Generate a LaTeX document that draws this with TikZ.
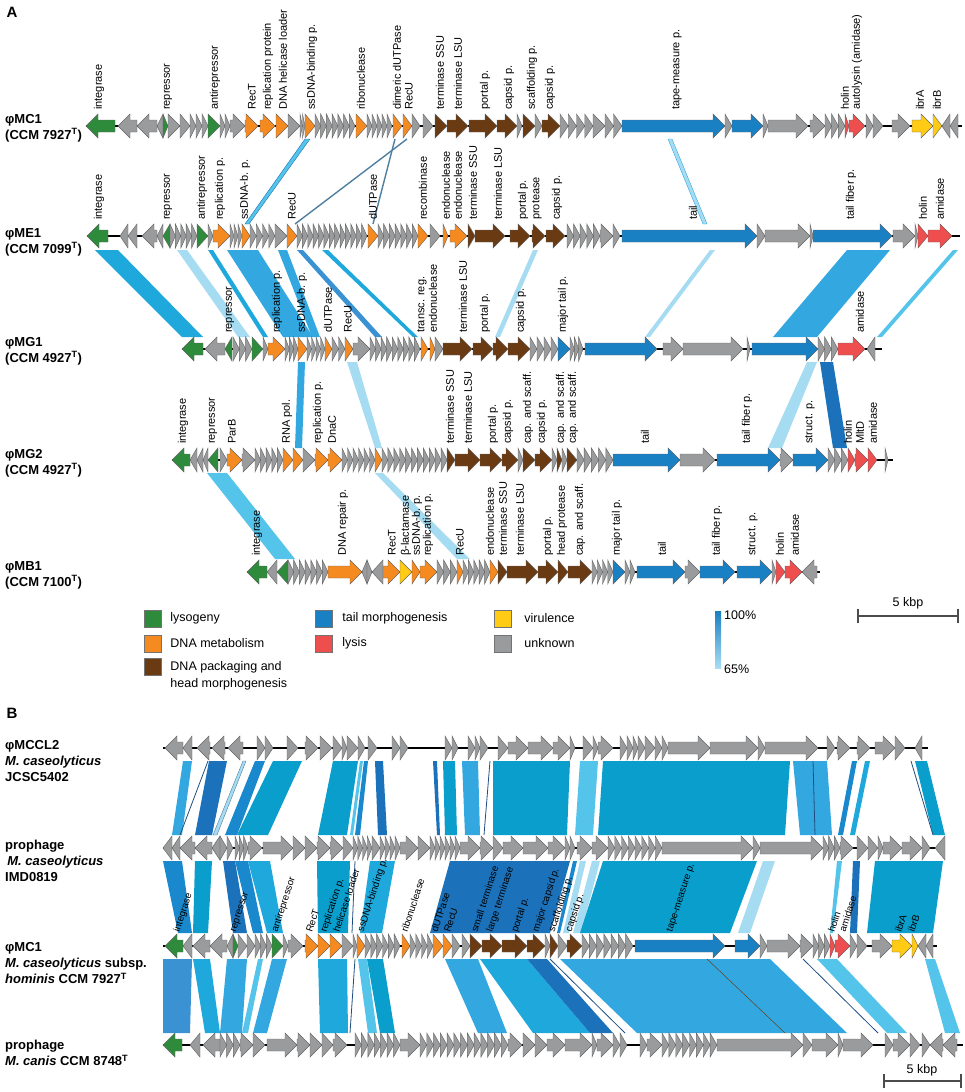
\documentclass[tikz,border=0pt]{standalone}
\usepackage{fontspec}
\setmainfont{Liberation Sans}
\usepackage{tikz}
\usetikzlibrary{positioning}

% gene classes
\definecolor{lys}{HTML}{2E8B3C}
\definecolor{dnam}{HTML}{F58A21}
\definecolor{pack}{HTML}{6A3A12}
\definecolor{tailc}{HTML}{1A80C4}
\definecolor{lysis}{HTML}{EE4E4E}
\definecolor{vir}{HTML}{FFCB14}
\definecolor{unk}{HTML}{9A9B9D}
% identity shades
\definecolor{hi}{HTML}{1A7FC1}
\definecolor{lo}{HTML}{A9DDF3}
\definecolor{hA}{HTML}{0A9ECC}
\definecolor{hB}{HTML}{1A88CC}
\definecolor{hC}{HTML}{33A8E0}
\definecolor{hD}{HTML}{A6DCF2}
\definecolor{hE}{HTML}{55C4EA}
\definecolor{hF}{HTML}{1B72BA}
\definecolor{hG}{HTML}{1F4E80}
\definecolor{hH}{HTML}{3A92D2}
\definecolor{hI}{HTML}{1FA8DC}
\definecolor{hS}{HTML}{4F7FA0}

% one gene arrow on track \ty, from #2 to tip #3
\newcommand\gene[3]{%
  \pgfmathsetmacro\gxa{#2}\pgfmathsetmacro\gxe{#3}%
  \pgfmathsetmacro\ghd{ifthenelse(\gxe>\gxa,1,-1)*min(abs(\gxe-\gxa),12)}%
  \pgfmathsetmacro\gxb{\gxe-(\ghd)}%
  \filldraw[gene, fill=#1] (\gxa,\ty-6) -- (\gxb,\ty-6) -- (\gxb,\ty-12) -- (\gxe,\ty)
    -- (\gxb,\ty+12) -- (\gxb,\ty+6) -- (\gxa,\ty+6) -- cycle;}
% a run of small grey genes
\newcommand\grun[3]{%
  \pgfmathsetmacro\rw{(#2-#1)/#3}%
  \foreach \k in {1,...,#3}{\gene{unk}{#1+(\k-1)*\rw}{#1+\k*\rw}}}

\begin{document}
\begin{tikzpicture}[x=1pt, y=-1pt,
  gene/.style={draw=black!60, line width=.45pt},
  dna/.style={line width=2.5pt, black},
  glab/.style={rotate=90, anchor=west, inner sep=0pt, font=\fontsize{11}{12}\selectfont},
  blab/.style={rotate=72, anchor=west, inner sep=0pt, font=\fontsize{9.8}{11}\selectfont},
  tname/.style={anchor=west, align=left, inner sep=0pt, font=\bfseries\fontsize{13}{16}\selectfont},
  legbox/.style={draw=black!55, line width=.5pt, minimum size=17pt, inner sep=0pt},
  legtxt/.style={anchor=west, inner sep=0pt, font=\fontsize{12.5}{17}\selectfont},
  sbar/.style={line width=1.1pt, black!70}]
\useasboundingbox (0,0) rectangle (964,1092);

%%%%%%%%%%%%%%%% Panel A %%%%%%%%%%%%%%%%
\node[font=\bfseries\fontsize{15}{15}\selectfont] (pA) at (12,12) {A};

% Homology MC1 - ME1 %
\def\yt{139}\def\yb{224}
\filldraw[fill=hE, draw=hF, line width=.4pt] (305,\yt) -- (310,\yt) -- (249,\yb) -- (245,\yb) -- cycle;
\filldraw[fill=hD, draw=hC, line width=.4pt] (668,\yt) -- (672,\yt) -- (707,\yb) -- (703,\yb) -- cycle;
\draw[hS, line width=1.4pt] (395,\yt) -- (373,\yb);
\draw[hS, line width=1.4pt] (407,\yt) -- (295,\yb);
% Homology ME1 - MG1 %
\def\yt{250}\def\yb{337}
\foreach \a/\b/\c/\d/\s in {95/118/182/203/hI, 177/187/238/250/hD, 208/213/263/268/hI,
  227/258/283/313/hC, 278/287/312/320/hC, 297/303/375/382/hH, 322/328/413/418/hI,
  533/538/495/500/hD, 710/715/645/650/hD, 847/890/773/817/hC, 953/958/877/882/hE}
  \fill[\s] (\a,\yt) -- (\b,\yt) -- (\d,\yb) -- (\c,\yb) -- cycle;
% Homology MG1 - MG2 %
\def\yt{362}\def\yb{448}
\foreach \a/\b/\c/\d/\s in {298/305/295/302/hC, 347/357/375/382/hD, 807/817/768/782/hD, 820/833/833/847/hF}
  \fill[\s] (\a,\yt) -- (\b,\yt) -- (\d,\yb) -- (\c,\yb) -- cycle;
% Homology MG2 - MB1 %
\def\yt{473}\def\yb{559}
\foreach \a/\b/\c/\d/\s in {207/227/275/295/hE, 375/383/457/470/hD}
  \fill[\s] (\a,\yt) -- (\b,\yt) -- (\d,\yb) -- (\c,\yb) -- cycle;

% phiMC1 %
\def\ty{126}
\node[tname] (n-mc1) at (5,\ty+2) {φMC1\\(CCM 7927\textsuperscript{T})};
\draw[dna] (86,\ty) -- (962,\ty);
\foreach \a/\b/\s in {115/86/lys, 137/118/unk, 157/137/unk, 163/157/unk, 163/168/lys, 168/180/unk,
  180/190/unk, 208/220/lys, 230/245/unk, 245/258/dnam, 260/275/dnam, 276/288/dnam, 288/300/unk,
  305/315/dnam, 356/367/dnam, 393/402/dnam, 403/412/dnam, 412/420/unk, 423/433/unk, 435/447/pack,
  447/468/pack, 469/497/pack, 497/517/pack, 517/522/unk, 523/535/pack, 535/542/unk, 542/560/pack,
  593/605/unk, 622/725/tailc, 725/732/unk, 732/763/tailc, 763/768/unk, 768/808/unk, 810/825/unk,
  845/849/lysis, 849/865/lysis, 866/873/unk, 873/883/unk, 892/910/unk, 912/933/vir, 933/942/vir,
  950/942/unk, 958/950/unk}
  {\gene{\s}{\a}{\b}}
\grun{190}{208}{3}\grun{220}{230}{2}\grun{300}{305}{2}\grun{315}{355}{7}
\grun{367}{392}{5}\grun{560}{593}{4}\grun{605}{622}{2}\grun{825}{845}{3}
\foreach \x/\t [count=\i] in {99/integrase, 168/repressor, 215/antirepressor, 252/RecT,
  268/replication protein, 283/DNA helicase loader, 312/ssDNA-binding p., 361/ribonuclease,
  397/dimeric dUTPase, 409/RecU, 440/terminase SSU, 458/terminase LSU, 485/portal p.,
  509/capsid p., 532/scaffolding p., 550/capsid p., 677/tape-measure p., 845/holin,
  857/autolysin (amidase), 920/ibrA, 937/ibrB}
  \node[glab] (mc1-\i) at (\x,\ty-16) {\t};

% phiME1 %
\def\ty{236}
\node[tname] (n-me1) at (5,\ty+6) {φME1\\(CCM 7099\textsuperscript{T})};
\draw[dna] (87,\ty) -- (960,\ty);
\foreach \a/\b/\s in {108/87/lys, 128/120/unk, 137/128/unk, 157/142/unk, 163/157/unk, 170/163/lys,
  197/208/lys, 208/213/unk, 213/230/dnam, 242/250/dnam, 275/287/unk, 287/297/dnam, 368/378/dnam,
  418/428/dnam, 430/440/unk, 443/448/dnam, 450/467/dnam, 468/475/pack, 475/505/pack, 510/530/pack,
  532/545/pack, 546/565/pack, 600/613/unk, 613/620/unk, 622/757/tailc, 757/765/unk, 765/810/unk,
  810/813/unk, 813/892/tailc, 893/915/unk, 915/918/unk, 918/928/lysis, 928/952/lysis}
  {\gene{\s}{\a}{\b}}
\grun{170}{197}{5}\grun{230}{242}{3}\grun{250}{275}{4}\grun{297}{367}{13}
\grun{378}{418}{7}\grun{567}{600}{5}
\foreach \x/\t [count=\i] in {99/integrase, 168/repressor, 202/antirepressor, 220/replication p.,
  245/ssDNA-b. p., 292/RecU, 373/dUTPase, 423/recombinase, 446/endonuclease, 458/endonuclease,
  473/terminase SSU, 498/terminase LSU, 523/portal p., 537/protease, 557/capsid p., 693/tail,
  851/tail fiber p., 923/holin, 940/amidase}
  \node[glab] (me1-\i) at (\x,\ty-16) {\t};

% phiMG1 %
\def\ty{349}
\node[tname] (n-mg1) at (5,\ty+2) {φMG1\\(CCM 4927\textsuperscript{T})};
\draw[dna] (182,\ty) -- (882,\ty);
\foreach \a/\b/\s in {203/182/lys, 225/205/unk, 232/225/lys, 252/263/lys, 263/268/unk, 268/285/dnam,
  298/307/dnam, 325/332/dnam, 345/353/dnam, 353/370/unk, 421/428/dnam, 430/435/dnam, 435/443/unk,
  443/472/pack, 473/493/pack, 493/508/pack, 508/530/pack, 558/570/tailc, 585/657/tailc,
  663/683/unk, 683/743/unk, 747/750/unk, 752/818/tailc, 838/865/lysis, 875/867/unk}
  {\gene{\s}{\a}{\b}}
\grun{233}{252}{3}\grun{285}{298}{3}\grun{307}{325}{4}\grun{332}{345}{2}
\grun{370}{420}{9}\grun{530}{558}{4}\grun{570}{583}{3}\grun{818}{838}{3}
\foreach \x/\t [count=\i] in {230/repressor, 277/replication p., 302/ssDNA-b. p., 328/dUTPase,
  348/RecU, 422/transc. reg., 433/endonuclease, 463/terminase LSU, 485/portal p., 521/capsid p.,
  563/major tail p., 860/amidase}
  \node[glab] (mg1-\i) at (\x,\ty-16) {\t};

% phiMG2 %
\def\ty{460}
\node[tname] (n-mg2) at (5,\ty+3) {φMG2\\(CCM 4927\textsuperscript{T})};
\draw[dna] (172,\ty) -- (893,\ty);
\foreach \a/\b/\s in {190/172/lys, 197/190/unk, 203/197/unk, 208/203/unk, 218/208/lys, 220/227/unk,
  227/242/dnam, 242/255/unk, 283/293/dnam, 293/303/dnam, 303/315/unk, 315/328/dnam, 328/342/dnam,
  375/382/dnam, 447/455/pack, 455/480/pack, 480/502/pack, 502/518/pack, 518/523/unk, 523/535/pack,
  535/552/pack, 552/557/unk, 557/562/pack, 562/567/unk, 567/577/pack, 613/680/tailc, 680/715/unk,
  717/780/tailc, 780/793/unk, 793/828/tailc, 848/855/lysis, 855/868/lysis, 868/877/lysis, 885/888/unk}
  {\gene{\s}{\a}{\b}}
\grun{255}{283}{5}\grun{342}{375}{6}\grun{382}{447}{11}\grun{577}{613}{5}\grun{828}{848}{3}
\foreach \x/\t [count=\i] in {183/integrase, 213/repressor, 232/ParB, 287/RNA pol.,
  318/replication p., 332/DnaC, 450/terminase SSU, 468/terminase LSU, 493/portal p., 508/capsid p.,
  528/cap. and scaff., 542/capsid p., 561/cap. and scaff., 573/cap. and scaff., 645/tail,
  747/tail fiber p., 810/struct. p., 848/holin, 860/MltD, 873/amidase}
  \node[glab] (mg2-\i) at (\x,\ty-16) {\t};

% phiMB1 %
\def\ty{572}
\node[tname] (n-mb1) at (5,\ty+3) {φMB1\\(CCM 7100\textsuperscript{T})};
\draw[dna] (247,\ty) -- (820,\ty);
\foreach \a/\b/\s in {267/247/lys, 277/267/unk, 288/277/lys, 328/362/dnam, 367/362/unk, 367/372/unk,
  383/372/unk, 383/400/dnam, 400/412/vir, 412/420/dnam, 420/437/dnam, 457/463/dnam, 490/498/dnam,
  498/507/pack, 507/538/pack, 538/558/pack, 558/568/pack, 568/592/pack, 613/625/tailc,
  637/685/tailc, 685/700/unk, 700/735/tailc, 737/772/tailc, 772/776/unk, 776/785/lysis,
  785/802/lysis, 817/802/unk}
  {\gene{\s}{\a}{\b}}
\grun{288}{328}{7}\grun{437}{457}{3}\grun{463}{490}{5}\grun{592}{613}{4}\grun{625}{635}{2}
\foreach \x/\t [count=\i] in {257/integrase, 343/DNA repair p., 392/RecT, 406/β-lactamase,
  417/ssDNA-b. p., 428/replication p., 460/RecU, 490/endonuclease, 503/terminase SSU,
  520/terminase LSU, 548/portal p., 562/head protease, 580/cap. and scaff., 617/major tail p.,
  662/tail, 717/tail fiber p., 753/struct. p., 780/holin, 795/amidase}
  \node[glab] (mb1-\i) at (\x,\ty-16) {\t};

% Legend %
\node[legbox, fill=lys] (k-lys) at (152.5,618.5) {};
\node[legbox, fill=dnam] (k-dnam) at (152.5,643.5) {};
\node[legbox, fill=pack] (k-pack) at (152.5,666.5) {};
\node[legbox, fill=tailc] (k-tail) at (323.5,618.5) {};
\node[legbox, fill=lysis] (k-lysis) at (323.5,643.5) {};
\node[legbox, fill=vir] (k-vir) at (502.5,618.5) {};
\node[legbox, fill=unk] (k-unk) at (502.5,643.5) {};
\node[legtxt, right=9pt of k-lys] (t-lys) {lysogeny};
\node[legtxt, right=9pt of k-dnam] (t-dnam) {DNA metabolism};
\node[legtxt, align=left, anchor=north west] (t-pack) at ([xshift=9pt, yshift=-3pt]k-pack.north east) {DNA packaging and\\head morphogenesis};
\node[legtxt, right=10pt of k-tail] (t-tail) {tail morphogenesis};
\node[legtxt, right=10pt of k-lysis] (t-lysis) {lysis};
\node[legtxt, right=13pt of k-vir] (t-vir) {virulence};
\node[legtxt, right=13pt of k-unk] (t-unk) {unknown};
\shade[top color=hi, bottom color=lo] (715,611) rectangle (721,668);
\node[legtxt] (p100) at (724,615) {100\%};
\node[legtxt] (p65) at (724,669) {65\%};
% Scale A %
\coordinate (sA1) at (858,616);
\coordinate (sA2) at (958,616);
\draw[sbar] (sA1) -- (sA2);
\draw[sbar] ([yshift=7pt]sA1) -- ([yshift=-7pt]sA1);
\draw[sbar] ([yshift=7pt]sA2) -- ([yshift=-7pt]sA2);
\node[legtxt, anchor=south] (sAt) at (908,609) {5 kbp};

%%%%%%%%%%%%%%%% Panel B %%%%%%%%%%%%%%%%
\node[font=\bfseries\fontsize{15}{15}\selectfont] (pB) at (12,713) {B};

% Homology MCCL2 - IMD0819 %
\def\yt{761}\def\yb{835}
\foreach \a/\b/\c/\d/\s in {183/192/172/182/hC, 209/227/195/212/hF, 255/265/225/237/hB,
  273/302/237/268/hA, 333/358/318/347/hA, 360/363/350/353/hE, 364/368/355/360/hB,
  375/383/378/387/hF, 433/437/437/440/hF, 443/455/445/457/hA, 462/478/465/480/hC,
  493/570/493/567/hA, 580/598/575/593/hE, 603/790/598/785/hA, 793/827/800/832/hC,
  852/857/838/843/hB, 865/870/850/855/hI, 915/927/933/945/hA}
  \fill[\s] (\a,\yt) -- (\b,\yt) -- (\d,\yb) -- (\c,\yb) -- cycle;
\filldraw[fill=hD, draw=hS, line width=.4pt] (243,\yt) -- (246,\yt) -- (217,\yb) -- (213,\yb) -- cycle;
\foreach \a/\c in {208/180, 490/484, 813/815, 911/933}
  \draw[hG, line width=.8pt] (\a,\yt) -- (\c,\yb);
% Homology IMD0819 - MC1 %
\def\yt{861}\def\yb{933}
\foreach \a/\b/\c/\d/\s in {163/182/178/192/hB, 195/212/193/208/hA, 223/235/233/247/hF,
  235/248/253/263/hB, 248/270/267/283/hI, 317/350/318/348/hA, 370/395/360/382/hI,
  450/570/430/550/hF, 573/577/557/560/hB, 580/586/563/569/hD, 592/600/573/581/hD,
  603/757/580/730/hA, 763/775/738/750/hD, 837/842/830/833/hE, 853/860/850/857/hF,
  875/943/867/933/hA}
  \fill[\s] (\a,\yt) -- (\b,\yt) -- (\d,\yb) -- (\c,\yb) -- cycle;
\draw[hG, line width=.8pt] (355,\yt) -- (352,\yb);
% Homology MC1 - canis %
\def\yt{959}\def\yb{1033}
\foreach \a/\b/\c/\d/\s in {163/192/163/190/hH, 193/210/205/220/hI, 227/247/220/242/hC,
  258/263/242/248/hE, 272/287/253/267/hC, 318/347/320/348/hI, 358/367/368/377/hE,
  367/383/380/395/hA, 445/478/478/507/hC, 480/527/533/590/hI, 527/547/590/613/hF,
  560/770/637/847/hC, 817/837/887/907/hE, 925/935/945/960/hE}
  \fill[\s] (\a,\yt) -- (\b,\yt) -- (\d,\yb) -- (\c,\yb) -- cycle;
\foreach \a/\c in {355/350, 550/625, 803/878}
  \draw[hG, line width=.8pt] (\a,\yt) -- (\c,\yb);
\draw[black!50!brown, line width=.5pt] (707,\yt) -- (785,\yb);

% phiMCCL2 %
\def\ty{748}
\node[tname] (n-mccl2) at (5,761) {φMCCL2\\\textit{M. caseolyticus}\\JCSC5402};
\draw[dna] (163,\ty) -- (928,\ty);
\foreach \a/\b in {183/165, 192/183, 210/197, 225/212, 243/228, 257/265, 265/273, 287/298, 305/318,
  320/332, 333/342, 342/347, 347/358, 358/365, 368/377, 392/400, 400/408, 445/452, 452/458,
  468/475, 475/480, 480/488, 498/508, 508/528, 528/553, 553/570, 570/575, 583/593, 593/598,
  598/613, 620/627, 627/633, 633/638, 638/645, 645/655, 655/662, 662/668, 668/710, 710/758,
  758/765, 765/818, 827/835, 837/850, 857/870, 875/895, 895/905, 922/915}
  {\gene{unk}{\a}{\b}}

% prophage IMD0819 %
\def\ty{848}
\node[tname] (n-imd) at (5,861) {prophage\\\,\textit{M. caseolyticus}\\IMD0819};
\draw[dna] (163,\ty) -- (945,\ty);
\foreach \a/\b in {172/163, 180/172, 195/180, 212/195, 220/212, 220/227, 227/233, 248/262, 263/293,
  293/305, 305/317, 317/330, 330/343, 343/353, 372/380, 400/418, 418/430, 460/480, 480/493,
  493/503, 503/523, 523/548, 548/565, 577/592, 592/608, 662/753, 753/760, 760/823, 840/853,
  857/868, 868/878, 878/883, 883/902, 902/922, 922/930, 945/935}
  {\gene{unk}{\a}{\b}}
\grun{235}{248}{3}\grun{353}{372}{4}\grun{380}{400}{4}\grun{430}{460}{6}
\grun{565}{575}{2}\grun{608}{662}{8}\grun{823}{840}{3}

% phiMC1 (B) %
\def\ty{946}
\node[tname] (n-mc1b) at (5,963) {φMC1\\\textit{M. caseolyticus} subsp.\\\textit{hominis} CCM 7927\textsuperscript{T}};
\draw[dna] (163,\ty) -- (937,\ty);
\foreach \a/\b/\s in {183/165/lys, 192/183/unk, 210/193/unk, 227/210/unk, 233/227/unk, 233/238/lys,
  238/247/unk, 247/255/unk, 272/283/lys, 283/288/unk, 288/303/unk, 305/318/dnam, 318/330/dnam,
  330/342/dnam, 342/353/unk, 353/357/unk, 357/365/dnam, 402/410/dnam, 433/443/dnam, 443/452/dnam,
  452/460/unk, 462/470/unk, 470/482/pack, 482/502/pack, 502/527/pack, 527/545/pack, 545/550/unk,
  550/558/pack, 558/567/unk, 567/582/pack, 635/725/tailc, 735/760/tailc, 760/767/unk,
  767/800/unk, 800/813/unk, 830/835/lysis, 835/850/lysis, 850/857/unk, 857/867/unk,
  872/892/unk, 892/912/vir, 912/918/vir, 926/918/unk, 933/926/unk}
  {\gene{\s}{\a}{\b}}
\grun{255}{272}{3}\grun{365}{400}{6}\grun{410}{433}{4}\grun{582}{633}{7}\grun{813}{830}{3}
\foreach \x/\t [count=\i] in {177/integrase, 234/repressor, 275/antirepressor, 309/RecT,
  324/replication p., 336/helicase loader, 361/ssDNA-binding p., 404/ribonuclease,
  434/dUTPase, 447/RecU, 474/small terminase, 490/large terminase, 515/portal p.,
  536/major capsid p., 552/scaffolding p., 569/capsid p., 670/tape-measure p., 831/holin,
  842/amidase, 898/ibrA, 911/ibrB}
  \node[blab] (mc1b-\i) at (\x,\ty-14) {\t};

% prophage canis %
\def\ty{1045}
\node[tname] (n-can) at (5,1053) {prophage\\\textit{M. canis} CCM 8748\textsuperscript{T}};
\draw[dna] (163,\ty) -- (963,\ty);
\gene{lys}{182}{163}
\foreach \a/\b in {200/190, 220/203, 240/253, 253/265, 267/297, 297/310, 310/322, 322/333, 333/347,
  400/420, 508/522, 523/535, 535/547, 547/565, 565/592, 592/597, 597/613, 640/647, 647/662,
  717/803, 803/812, 812/838, 838/843, 843/873, 885/893, 893/910, 910/920, 922/930, 943/930, 957/943}
  {\gene{unk}{\a}{\b}}
\grun{220}{240}{3}\grun{355}{400}{7}\grun{420}{508}{13}\grun{613}{627}{2}\grun{662}{717}{8}

% Scale B %
\coordinate (sB1) at (884,1081);
\coordinate (sB2) at (961,1081);
\draw[sbar] (sB1) -- (sB2);
\draw[sbar] ([yshift=7pt]sB1) -- ([yshift=-7pt]sB1);
\draw[sbar] ([yshift=7pt]sB2) -- ([yshift=-7pt]sB2);
\node[legtxt, anchor=south] (sBt) at (922,1076) {5 kbp};
\end{tikzpicture}
\end{document}
